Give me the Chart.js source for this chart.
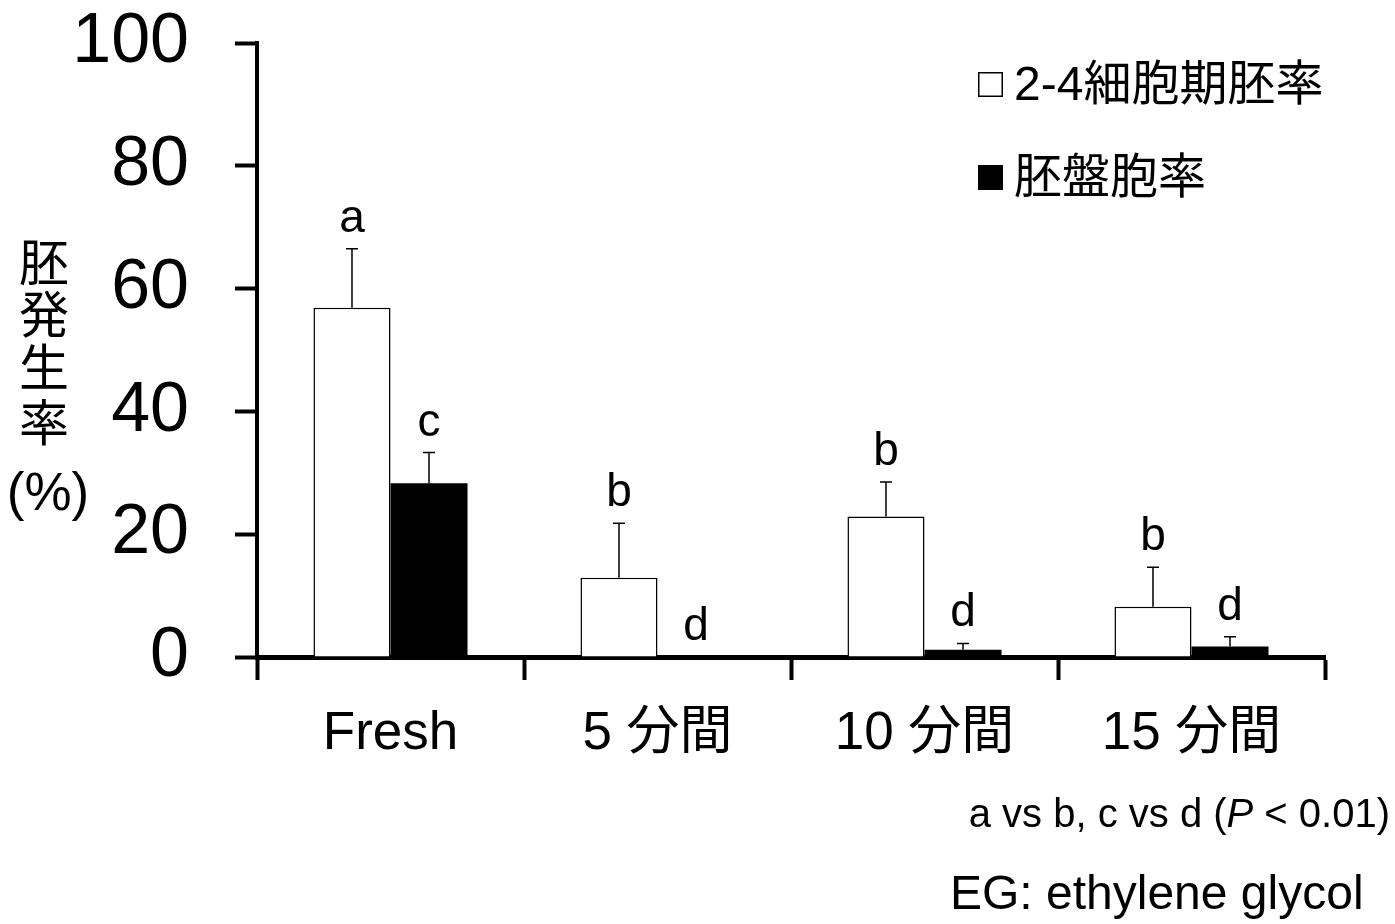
<!DOCTYPE html>
<html>
<head>
<meta charset="utf-8">
<title>胚発生率</title>
<script src="https://cdn.jsdelivr.net/npm/chart.js@4"></script>
<style>
  html, body { margin: 0; padding: 0; background: #ffffff; }
  #wrap { width: 1395px; height: 924px; position: relative; }
</style>
</head>
<body>
<div id="wrap"><canvas id="chart" width="1395" height="924"></canvas></div>
<script>
// Treatment groups (x axis)
const categories = ['Fresh', '5 分間', '10 分間', '15 分間'];

// 2-4 cell stage rate (%) and its upper error
const cleavageLabel = '2-4細胞期胚率';
const cleavageRate = [56.9, 12.9, 22.9, 8.2];
const cleavageErr = [9.6, 8.9, 5.6, 6.4];
const cleavageLetters = ['a', 'b', 'b', 'b'];

// Blastocyst rate (%) and its upper error
const blastLabel = '胚盤胞率';
const blastRate = [28.3, 0, 1.2, 1.7];
const blastErr = [5.0, 0, 1.0, 1.6];
const blastLetters = ['c', 'd', 'd', 'd'];

// Y axis range
const yMin = 0;
const yMax = 100;
const yStep = 20;

// Axis title, one character per line
const yTitleLines = ['胚', '発', '生', '率', '(%)'];

const FONT = "'Liberation Sans', Arial, 'Noto Sans CJK JP', sans-serif";

const errLetters = [
  { err: cleavageErr, letters: cleavageLetters },
  { err: blastErr, letters: blastLetters }
];

// Upper error bars plus significance letters above each bar
const errorBarPlugin = {
  id: 'errorBars',
  afterDatasetsDraw(chart) {
    const ctx = chart.ctx;
    const yScale = chart.scales.y;
    ctx.save();
    chart.data.datasets.forEach((ds, di) => {
      const meta = chart.getDatasetMeta(di);
      const info = errLetters[di];
      meta.data.forEach((bar, i) => {
        const v = ds.data[i];
        const e = info.err[i];
        const x = bar.x;
        const yTop = yScale.getPixelForValue(v);
        const yErr = yScale.getPixelForValue(v + e);
        if (e > 0) {
          ctx.strokeStyle = '#000';
          ctx.lineWidth = 1.5;
          ctx.beginPath();
          ctx.moveTo(x, yTop);
          ctx.lineTo(x, yErr);
          ctx.moveTo(x - 6, yErr);
          ctx.lineTo(x + 6, yErr);
          ctx.stroke();
        }
        ctx.fillStyle = '#000';
        ctx.font = '46px ' + FONT;
        ctx.textAlign = 'center';
        ctx.textBaseline = 'alphabetic';
        ctx.fillText(info.letters[i], x, yErr - 17);
      });
    });
    ctx.restore();
  }
};

// Legend, axis title and footnotes
const annotationPlugin = {
  id: 'annotations',
  afterDraw(chart) {
    const ctx = chart.ctx;
    ctx.save();
    ctx.fillStyle = '#000';

    // legend
    const items = chart.data.datasets;
    const lx = 978, ly = [72, 165], box = 25;
    items.forEach((ds, i) => {
      ctx.fillStyle = ds.backgroundColor;
      ctx.fillRect(lx, ly[i], box, box);
      ctx.strokeStyle = '#000';
      ctx.lineWidth = 1.5;
      ctx.strokeRect(lx + 0.75, ly[i] + 0.75, box - 1.5, box - 1.5);
      ctx.fillStyle = '#000';
      ctx.font = '48px ' + FONT;
      ctx.textAlign = 'left';
      ctx.textBaseline = 'middle';
      ctx.fillText(ds.label, lx + 36, ly[i] + box / 2 + 2);
    });

    // vertical y-axis title
    const centers = [267, 319, 372, 427, 495];
    ctx.textAlign = 'center';
    ctx.textBaseline = 'middle';
    yTitleLines.forEach((t, i) => {
      ctx.font = (i === yTitleLines.length - 1 ? '53px ' : '50px ') + FONT;
      ctx.fillText(t, i === yTitleLines.length - 1 ? 48 : 44, centers[i]);
    });

    // significance note with italic P, right aligned
    const segs = [
      ['a vs b, c vs d (', ''],
      ['P', 'italic '],
      [' < 0.01)', '']
    ];
    const size = '40px ';
    let total = 0;
    segs.forEach(s => { ctx.font = s[1] + size + FONT; total += ctx.measureText(s[0]).width; });
    let x = 1390 - total;
    ctx.textAlign = 'left';
    ctx.textBaseline = 'alphabetic';
    segs.forEach(s => {
      ctx.font = s[1] + size + FONT;
      ctx.fillText(s[0], x, 827);
      x += ctx.measureText(s[0]).width;
    });

    ctx.font = '48px ' + FONT;
    ctx.fillText('EG: ethylene glycol', 950, 909);
    ctx.restore();
  }
};

new Chart(document.getElementById('chart'), {
  type: 'bar',
  data: {
    labels: categories,
    datasets: [
      {
        label: cleavageLabel,
        data: cleavageRate,
        backgroundColor: '#ffffff',
        borderColor: '#000000',
        borderWidth: 1.5,
        borderSkipped: 'bottom'
      },
      {
        label: blastLabel,
        data: blastRate,
        backgroundColor: '#000000',
        borderWidth: 0
      }
    ]
  },
  options: {
    responsive: false,
    animation: false,
    events: [],
    layout: { padding: { top: 0, right: 70, bottom: 0, left: 0 } },
    datasets: {
      bar: { categoryPercentage: 0.577, barPercentage: 1.0 }
    },
    plugins: {
      legend: { display: false },
      tooltip: { enabled: false }
    },
    scales: {
      x: {
        type: 'category',
        offset: true,
        afterFit(scale) { scale.height = 267; },
        grid: {
          display: true,
          offset: true,
          drawOnChartArea: false,
          drawTicks: true,
          tickLength: 23,
          tickWidth: 4,
          tickColor: '#000'
        },
        border: { display: true, color: '#000', width: 5 },
        ticks: {
          color: '#000',
          font: { family: FONT, size: 53 },
          padding: 23,
          maxRotation: 0,
          autoSkip: false
        }
      },
      y: {
        min: yMin,
        max: yMax,
        afterFit(scale) {
          scale.width = 257;
          scale.paddingTop = 43;
        },
        grid: {
          display: true,
          drawOnChartArea: false,
          drawTicks: true,
          tickLength: 22,
          tickWidth: 4,
          tickColor: '#000'
        },
        border: { display: true, color: '#000', width: 4 },
        ticks: {
          stepSize: yStep,
          color: '#000',
          font: { family: FONT, size: 70 },
          padding: 46
        }
      }
    }
  },
  plugins: [errorBarPlugin, annotationPlugin]
});
</script>
</body>
</html>
